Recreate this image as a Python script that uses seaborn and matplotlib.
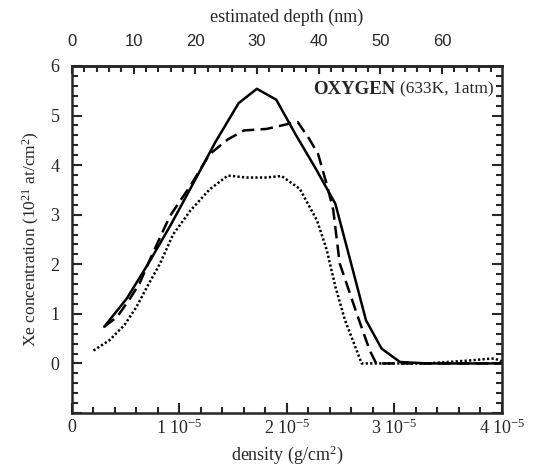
import matplotlib
matplotlib.use('Agg')
import matplotlib.pyplot as plt
import seaborn as sns
import pandas as pd
from matplotlib.ticker import MultipleLocator, FixedLocator, FuncFormatter

# density in units of 1e-5 g/cm2, Xe concentration in 1e21 at/cm2
solid_density = [0.30, 0.51, 0.72, 0.92, 1.12, 1.33, 1.55, 1.72, 1.90, 2.08, 2.27, 2.45, 2.59,
                 2.735, 2.88, 3.05, 3.3, 3.6, 4.0]
solid_conc = [0.74, 1.31, 2.05, 2.80, 3.60, 4.45, 5.25, 5.54, 5.32, 4.62, 3.92, 3.22, 2.07,
              0.87, 0.30, 0.03, 0.0, 0.0, 0.0]

dashed_density = [0.30, 0.42, 0.54, 0.63, 0.73, 0.91, 1.10, 1.28, 1.45, 1.60, 1.81, 2.01, 2.10,
                  2.21, 2.29, 2.37, 2.43, 2.49, 2.65, 2.77, 2.83, 3.3, 3.7, 4.0]
dashed_conc = [0.74, 0.94, 1.31, 1.62, 2.12, 2.97, 3.58, 4.22, 4.52, 4.70, 4.73, 4.83, 4.87,
               4.52, 4.22, 3.61, 3.10, 2.02, 1.00, 0.26, 0.0, 0.0, 0.0, 0.0]

dotted_density = [0.20, 0.35, 0.49, 0.60, 0.70, 0.82, 0.94, 1.10, 1.28, 1.45, 1.62, 1.80, 1.95,
                  2.12, 2.28, 2.37, 2.45, 2.54, 2.695, 3.0, 3.3, 3.5, 3.7, 3.85, 3.93, 4.0]
dotted_conc = [0.26, 0.47, 0.78, 1.14, 1.55, 2.02, 2.60, 3.08, 3.51, 3.79, 3.75, 3.75, 3.78,
               3.52, 2.88, 2.29, 1.55, 0.87, 0.0, 0.0, 0.0, 0.03, 0.06, 0.09, 0.10, 0.04]

nm_per_unit = 17.43  # estimated depth (nm) per 1e-5 g/cm2

sns.set_style('ticks')
plt.rcParams['font.family'] = ['Liberation Serif', 'DejaVu Serif']
plt.rcParams['mathtext.fontset'] = 'custom'
plt.rcParams['mathtext.rm'] = 'Liberation Serif'
plt.rcParams['mathtext.it'] = 'Liberation Serif:italic'
plt.rcParams['mathtext.bf'] = 'Liberation Serif:bold'

fig = plt.figure(figsize=(5.52, 4.66), dpi=100)
ax = fig.add_axes([0.1304, 0.1137, 0.7790, 0.7447])

lw = 1.8
sns.lineplot(x=solid_density, y=solid_conc, ax=ax, color='black', lw=lw, errorbar=None, sort=False)
sns.lineplot(x=dashed_density, y=dashed_conc, ax=ax, color='black', lw=lw, errorbar=None, sort=False,
             linestyle=(0, (5, 2.5)))
sns.lineplot(x=dotted_density, y=dotted_conc, ax=ax, color='black', lw=lw, errorbar=None, sort=False,
             linestyle=(0, (0.9, 0.9)))

ax.set_xlim(0, 4)
ax.set_ylim(-1, 6)

for s in ax.spines.values():
    s.set_linewidth(1.8)
    s.set_visible(True)

ax.xaxis.set_major_locator(MultipleLocator(1))
ax.xaxis.set_minor_locator(MultipleLocator(0.2))
ax.xaxis.set_major_formatter(FuncFormatter(
    lambda v, p: '0' if abs(v) < 1e-9 else '%d 10$^{-5}$' % round(v)))
ax.yaxis.set_major_locator(MultipleLocator(1))
ax.yaxis.set_minor_locator(MultipleLocator(0.2))
ax.yaxis.set_major_formatter(FuncFormatter(lambda v, p: '' if v < 0 else '%d' % round(v)))

ax.tick_params(which='both', direction='in', top=False, right=True, width=1.5, labelsize=13)
ax.tick_params(axis='x', pad=4)
ax.tick_params(axis='y', pad=9)
ax.tick_params(which='major', length=7)
ax.tick_params(which='minor', length=4)

sec = ax.secondary_xaxis('top', functions=(lambda x: x * nm_per_unit, lambda d: d / nm_per_unit))
sec.xaxis.set_major_locator(MultipleLocator(10))
sec.xaxis.set_minor_locator(MultipleLocator(2))
sec.tick_params(which='both', direction='in', width=1.5, pad=12)
sec.tick_params(which='major', length=6)
sec.tick_params(which='minor', length=4)
sec.spines['top'].set_linewidth(1.8)
for t in sec.get_xticklabels():
    t.set_family('Liberation Sans')
    t.set_fontsize(12)
sec.set_xlabel('estimated depth (nm)', fontsize=13, labelpad=9)

ax.set_xlabel('density (g/cm$^{2}$)', fontsize=13, labelpad=4)
ax.set_ylabel('Xe concentration (10$^{21}$ at/cm$^{2}$)', fontsize=12.5, labelpad=6)

ax.text(2.24, 5.52, 'OXYGEN', fontsize=13.5, fontweight='bold', va='center', ha='left')
ax.text(3.05, 5.52, '(633K, 1atm)', fontsize=12.5, va='center', ha='left')

fig.savefig('out.png', dpi=100)
